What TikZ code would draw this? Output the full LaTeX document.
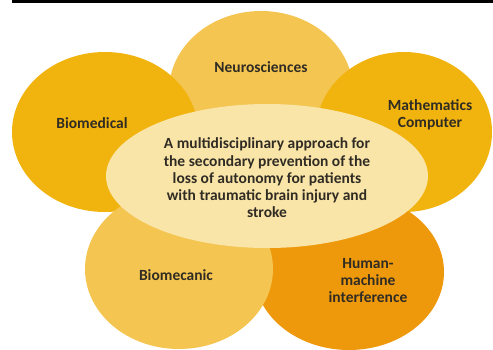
\documentclass[tikz,border=0pt]{standalone}
\usepackage{fontspec}
\setmainfont{Carlito}
\usetikzlibrary{shapes.geometric}
\definecolor{gold}{HTML}{F1B30E}
\definecolor{lightgold}{HTML}{F4C550}
\definecolor{orangeb}{HTML}{EE990C}
\definecolor{cream}{HTML}{FAE5A9}
\definecolor{txt}{HTML}{302C24}
\begin{document}
\begin{tikzpicture}[x=1pt,y=-1pt,
  blob/.style={ellipse, inner sep=0pt, draw=none},
  lbl/.style={font=\bfseries\fontsize{15.5}{17}\selectfont, text=txt, align=center, inner sep=0pt},
  maintext/.style={font=\bfseries\fontsize{15.5}{17.3}\selectfont, text=txt, align=center, inner sep=0pt}]
\useasboundingbox (0,0) rectangle (493,349);
\fill[black] (12,0) rectangle (493,2.5);
\node[blob, fill=lightgold, minimum width=184pt, minimum height=160pt] (neuro) at (261,91) {};
\node[blob, fill=gold, minimum width=186pt, minimum height=160pt] (biomed) at (105,132) {};
\node[blob, fill=gold, minimum width=176pt, minimum height=160pt] (math) at (404,132) {};
\node[blob, fill=orangeb, minimum width=190pt, minimum height=156pt] (hmi) at (349,272) {};
\node[blob, fill=lightgold, minimum width=188pt, minimum height=160pt] (biomec) at (179,269) {};
\node[blob, fill=cream, minimum width=322pt, minimum height=144pt] (center) at (267,176) {};
\node[maintext] (ctext) at (267,178) {A multidisciplinary approach for\\the secondary prevention of the\\loss of autonomy for patients\\with traumatic brain injury and\\stroke};
\node[lbl] (lneuro) at (261,67) {Neurosciences};
\node[lbl] (lbiomed) at (92,123) {Biomedical};
\node[lbl] (lmath) at (430,115) {Mathematics\\Computer};
\node[lbl] (lbiomec) at (176,275) {Biomecanic};
\node[lbl] (lhmi) at (368,281) {Human-\\machine\\interference};
\end{tikzpicture}
\end{document}
